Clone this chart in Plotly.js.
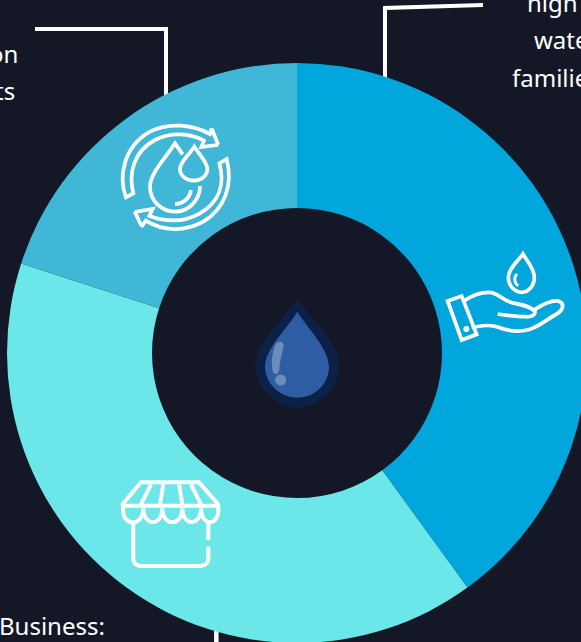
<!DOCTYPE html>
<html><head><meta charset="utf-8">
<script src="https://cdn.plot.ly/plotly-3.0.1.min.js"></script>
<style>html,body{margin:0;padding:0;width:581px;height:642px;overflow:hidden;background:#141826}#c{width:600px;height:660px}</style>
</head><body><div id="c"></div>
<script>
const categories=["Water for families","Business","Reuse"];
const values=[40,40,20];
const sliceColors=["#00A6DC","#6BE6E9","#41B7D8"];
const bg="#141826";
const labels=[
 {text:"high",x:525,y:3,anchor:"left"},
 {text:"water",x:532,y:40,anchor:"left"},
 {text:"families",x:510,y:78,anchor:"left"},
 {text:"on",x:20,y:53,anchor:"right"},
 {text:"ts",x:17,y:90,anchor:"right"},
 {text:"Business:",x:-3,y:625,anchor:"left"}
];
const W=600,H=660;
const px=x=>x/W, py=y=>1-y/H;
// path written in 3x crop coordinates with origin (ox,oy)
function P(d,ox,oy){
  let i=0;
  return d.replace(/-?\d+(\.\d+)?/g,m=>{
    const v=parseFloat(m);
    const r=(i++%2===0)?px(ox+v/3):py(oy+v/3);
    return r.toFixed(5);
  });
}
const shapes=[];
const WH="#ffffff";
function stroke(d,ox,oy,w,layer){shapes.push({type:"path",xref:"paper",yref:"paper",path:P(d,ox,oy),line:{color:WH,width:w},fillcolor:"rgba(0,0,0,0)",layer:layer||"above"});}
function fill(d,ox,oy,c){shapes.push({type:"path",xref:"paper",yref:"paper",path:P(d,ox,oy),line:{width:0},fillcolor:c,layer:"above"});}
function circ(cx,cy,r,lc,w,fc){shapes.push({type:"circle",xref:"paper",yref:"paper",x0:px(cx-r),x1:px(cx+r),y0:py(cy+r),y1:py(cy-r),line:{color:lc,width:w},fillcolor:fc,layer:"above"});}
// leader lines (behind ring)
stroke("M 105 87 L 498 87 L 498 300",0,0,4,"below");
stroke("M 45 240 L 45 24 L 339 15",370,0,4,"below");
stroke("M 649 60 L 649 130",0,600,4.5,"below");
// recycling icon
const R=[100,110],iw=3.7;
stroke("M 248 133 L 225 100 C 200 140 150 190 150 230 C 150 272 185 305 225 305 C 265 305 300 272 300 228",R[0],R[1],iw);
stroke("M 225 282 C 250 282 272 262 272 240",R[0],R[1],iw);
stroke("M 283 110 C 268 135 240 155 240 177 C 240 197 260 212 281 212 C 303 212 322 197 322 177 C 322 155 298 135 283 110 Z",R[0],R[1],iw);
stroke("M 312 92 C 270 70 215 65 165 90 C 100 125 85 190 100 250 L 78 262 C 55 200 70 110 150 65 C 210 35 280 45 330 72 L 333 60 L 337 60 L 353 100 L 350 105 L 304 111 Z",R[0],R[1],iw);
stroke("M 358 160 C 375 220 360 275 300 310 C 250 338 195 335 148 318 L 158 297 L 109 305 L 106 309 L 123 345 L 127 347 L 137 332 C 190 365 255 365 310 335 C 375 295 400 225 380 147 Z",R[0],R[1],iw);
// hand icon
const Hd=[435,240];
stroke("M 38 183 L 80 168 L 125 283 L 80 300 Z",Hd[0],Hd[1],iw);
circ(435+94/3,240+267/3,3,WH,0,WH);
stroke("M 88 182 C 115 165 145 155 170 158 C 200 165 205 185 240 190 C 265 195 290 200 300 215 C 300 225 290 232 270 230 C 240 230 210 225 188 222",Hd[0],Hd[1],iw);
stroke("M 300 208 C 320 195 350 180 370 183 C 390 190 385 210 365 222 C 340 235 320 255 285 268 C 255 278 215 272 190 262 C 165 252 140 258 110 262",Hd[0],Hd[1],iw);
stroke("M 264 42 C 250 62 220 85 220 112 C 220 138 240 157 260 157 C 280 157 298 138 298 112 C 298 85 275 62 264 42 Z",Hd[0],Hd[1],iw);
stroke("M 250 137 C 238 130 235 112 246 102",Hd[0],Hd[1],2.8);
// shop icon
const S=[105,465],sw=4;
stroke("M 108 52 L 282 52 L 338 116 Q 342 122 336 122 L 56 122 Q 50 122 54 116 Z",S[0],S[1],sw);
stroke("M 138 58 L 108 118 M 175 58 L 165 118 M 222 58 L 232 118 M 258 58 L 288 118",S[0],S[1],sw);
stroke("M 54 122 L 54 135 C 54 185 115 185 115 130 C 115 185 172 185 172 130 C 172 185 232 185 232 130 C 232 185 288 185 288 130 C 288 185 340 185 340 135 L 340 122",S[0],S[1],sw);
stroke("M 85 175 L 85 280 C 85 295 95 303 108 303 L 285 303 C 300 303 310 295 310 280 L 310 245 M 310 225 L 310 175",S[0],S[1],sw);
// centre drop
const D=[235,285];
fill("M 187 40 C 160 90 62 170 62 240 C 62 310 125 368 187 368 C 250 368 312 310 312 240 C 312 170 215 90 187 40 Z",D[0],D[1],"#0B2147");
fill("M 187 80 C 165 120 90 190 90 245 C 90 295 135 338 187 338 C 240 338 282 295 282 245 C 282 190 210 120 187 80 Z",D[0],D[1],"#2F5DA3");
fill("M 122 178 C 130 165 147 170 146 182 C 142 205 133 230 133 255 C 130 272 115 270 113 258 C 108 230 112 200 122 178 Z",D[0],D[1],"#6C8DBB");
circ(235+137/3,285+285/3,5.5,"#6C8DBB",0,"#6C8DBB");

const annotations=labels.map(l=>({text:l.text,xref:"paper",yref:"paper",x:px(l.x),y:py(l.y),xanchor:l.anchor,yanchor:"middle",showarrow:false,font:{family:"Noto Sans, sans-serif",size:24,color:"#ffffff"}}));

Plotly.newPlot("c",[{
  type:"pie",labels:categories,values:values,sort:false,direction:"clockwise",rotation:0,hole:0.5,
  marker:{colors:sliceColors,line:{width:0}},textinfo:"none",hoverinfo:"none",showlegend:false,
  domain:{x:[7/W,587/W],y:[1-643/H,1-63/H]}
}],{
  width:W,height:H,margin:{l:0,r:0,t:0,b:0},paper_bgcolor:bg,plot_bgcolor:bg,shapes:shapes,annotations:annotations,showlegend:false
},{displayModeBar:false,staticPlot:true});
</script></body></html>
